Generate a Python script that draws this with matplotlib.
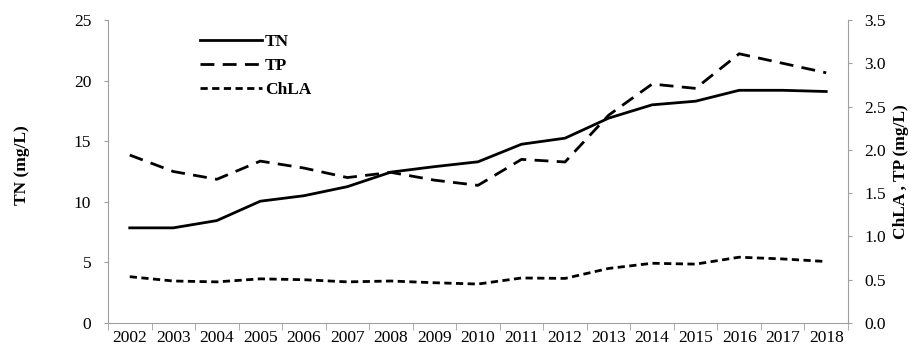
import matplotlib.pyplot as plt
import numpy as np

# Godine i izmerene vrednosti
years = ['2002', '2003', '2004', '2005', '2006', '2007', '2008', '2009', '2010',
         '2011', '2012', '2013', '2014', '2015', '2016', '2017', '2018']
tn = [7.85, 7.85, 8.45, 10.05, 10.5, 11.25, 12.45, 12.9, 13.3,
      14.75, 15.25, 16.9, 18.0, 18.3, 19.2, 19.2, 19.1]
tp = [1.94, 1.75, 1.66, 1.87, 1.79, 1.68, 1.74, 1.65, 1.59,
      1.89, 1.86, 2.40, 2.76, 2.71, 3.11, 3.00, 2.89]
chla = [0.535, 0.485, 0.475, 0.51, 0.50, 0.475, 0.485, 0.465, 0.45,
        0.52, 0.515, 0.63, 0.69, 0.68, 0.76, 0.74, 0.71]

plt.rcParams['font.family'] = ['Liberation Serif', 'DejaVu Serif']
spine_color = '#a0a0a0'
fs = 12.5

fig = plt.figure(figsize=(9.12, 3.49), dpi=100)
ax = fig.add_axes([0.1184, 0.0745, 0.8114, 0.8682])
ax2 = ax.twinx()

x = np.arange(len(years))
l1, = ax.plot(x, tn, color='black', lw=2.0, label='TN')
l2, = ax2.plot(x, tp, color='black', lw=2.0, dashes=(5, 3), label='TP')
l3, = ax2.plot(x, chla, color='black', lw=2.0, dashes=(2.6, 1.6), label='ChLA')

ax.set_xlim(-0.5, len(years) - 0.5)
ax.set_ylim(0, 25)
ax2.set_ylim(0, 3.5)
ax.set_yticks(np.arange(0, 26, 5))
ax2.set_yticks(np.arange(0, 3.6, 0.5))
ax2.set_yticklabels([f'{v:.1f}' for v in np.arange(0, 3.6, 0.5)])

# Podele izmedju godina, kao u Excel-u
ax.set_xticks(x)
ax.set_xticklabels(years)
ax.set_xticks(np.arange(-0.5, len(years), 1.0), minor=True)
ax.tick_params(axis='x', which='major', length=0, pad=5, labelsize=fs)
ax.tick_params(axis='x', which='minor', length=5, color=spine_color, direction='out')
ax.tick_params(axis='y', length=3, color=spine_color, labelsize=fs, pad=9)
ax2.tick_params(axis='y', length=3, color=spine_color, labelsize=fs, pad=9)

for a in (ax, ax2):
    a.spines['top'].set_visible(False)
    for s in ('left', 'right', 'bottom'):
        a.spines[s].set_color(spine_color)
ax.spines['right'].set_visible(False)
ax2.spines['left'].set_visible(False)
ax2.spines['bottom'].set_visible(False)

ax.set_ylabel('TN (mg/L)', fontweight='bold', fontsize=fs)
ax.yaxis.set_label_coords(-0.105, 0.52)
ax2.set_ylabel('ChLA , TP (mg/L)', fontweight='bold', fontsize=fs,
               rotation=90, labelpad=5)

leg = ax.legend(handles=[l1, l2, l3], loc='upper left', bbox_to_anchor=(0.103, 1.005),
                frameon=False, handlelength=3.6, handletextpad=0.15,
                labelspacing=0.45, prop={'weight': 'bold', 'size': fs})

fig.savefig('out.png', dpi=100)
